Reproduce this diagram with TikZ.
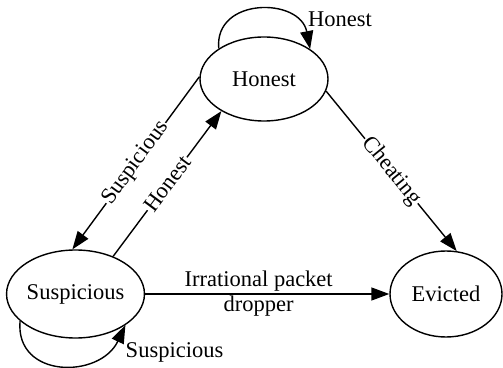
\documentclass[tikz,border=0pt]{standalone}
\usepackage{fontspec}
\setmainfont{Liberation Serif}
\usetikzlibrary{shapes.geometric,arrows.meta}
\begin{document}
\begin{tikzpicture}[x=1pt,y=1pt,
  txt/.style={font=\fontsize{22.5}{25}\selectfont},
  state/.style={ellipse,draw,line width=1.4pt,inner sep=0pt,txt},
  edge/.style={line width=1.4pt,-{Triangle[length=18pt,width=13pt]}},
  lbl/.style={txt,inner sep=1pt},
  slbl/.style={lbl,sloped,fill=white}]
\useasboundingbox (0,0) rectangle (503,367);
\node[state,minimum width=128pt,minimum height=84pt] (H) at (264,288) {Honest};
\node[state,minimum width=125pt,minimum height=88pt] (S) at (75.5,73) {Suspicious};
\node[state,minimum width=112pt,minimum height=86pt] (E) at (446,73) {Evicted};
% self loops
\draw[edge] (H.146) .. controls (214,370) and (300,370) .. (H.33);
\node[lbl] (lh) at (340,347.5) {Honest};
\draw[edge] (S.206) .. controls (15,-12) and (100,-12) .. (S.-32);
\node[lbl] (ls) at (174.5,15) {Suspicious};
% edges
\draw[edge] (H.178) -- (S.94) node[slbl,pos=0.5] (l1) {Suspicious};
\draw[edge] (S.45) -- (H.217) node[slbl,pos=0.5] (l2) {Honest};
\draw[edge] (H.-11) -- (E.76) node[slbl,pos=0.5] (l3) {Cheating};
\draw[edge] (S.east) -- (E.west) node[lbl,pos=0.465,align=center] (l4) {Irrational packet\\dropper};
\end{tikzpicture}
\end{document}
